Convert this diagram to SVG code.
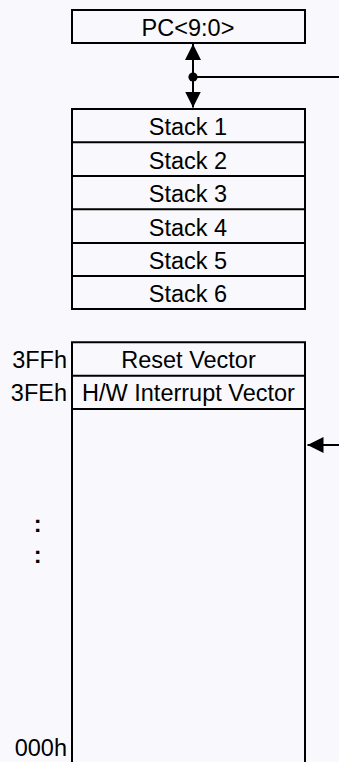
<svg xmlns="http://www.w3.org/2000/svg" width="339" height="762" viewBox="0 0 339 762">
<style>
.box{fill:none;stroke:#000;stroke-width:2}
.ln{stroke:#000;stroke-width:2;fill:none}
.t{font-family:"Liberation Sans",Arial,sans-serif;font-size:23.5px;fill:#000}
.c{text-anchor:middle}
.r{text-anchor:end}
</style>
<defs>
<marker id="ah" viewBox="0 0 16 16" refX="16" refY="8" markerWidth="16" markerHeight="16" markerUnits="userSpaceOnUse" orient="auto-start-reverse">
<path d="M0,0 L16,8 L0,16 Z" fill="#000"/>
</marker>
</defs>
<rect x="0" y="0" width="339" height="762" fill="#f9f9fd"/>
<g id="pc">
<rect class="box" x="72" y="10" width="233" height="33"/>
<text class="t c" x="188" y="36">PC&lt;9:0&gt;</text>
</g>
<g id="stack">
<rect class="box" x="72" y="109" width="233" height="200"/>
<path class="ln" d="M72,142.3H305M72,176H305M72,209.3H305M72,243H305M72,276H305"/>
<text class="t c" x="188" y="135">Stack 1</text>
<text class="t c" x="188" y="168.5">Stack 2</text>
<text class="t c" x="188" y="202">Stack 3</text>
<text class="t c" x="188" y="235.5">Stack 4</text>
<text class="t c" x="188" y="269">Stack 5</text>
<text class="t c" x="188" y="302">Stack 6</text>
</g>
<g id="memory">
<path class="ln" d="M72,764V342.3H305V764M72,375.7H305M72,409H305"/>
<text class="t c" x="188.5" y="368">Reset Vector</text>
<text class="t c" x="188.5" y="401">H/W Interrupt Vector</text>
<text class="t r" x="67" y="368">3FFh</text>
<text class="t r" x="67" y="401">3FEh</text>
<text class="t c" x="37.7" y="531.7" font-weight="bold">:</text>
<text class="t c" x="37.7" y="563.3" font-weight="bold">:</text>
<text class="t r" x="67" y="756">000h</text>
</g>
<g id="connectors">
<path class="ln" d="M193,77V44" marker-end="url(#ah)"/>
<path class="ln" d="M193,77V107.5" marker-end="url(#ah)"/>
<circle cx="193" cy="77" r="4.6" fill="#000"/>
<path class="ln" d="M193,77H339"/>
<path class="ln" d="M339,445H307.5" marker-end="url(#ah)"/>
</g>
</svg>
